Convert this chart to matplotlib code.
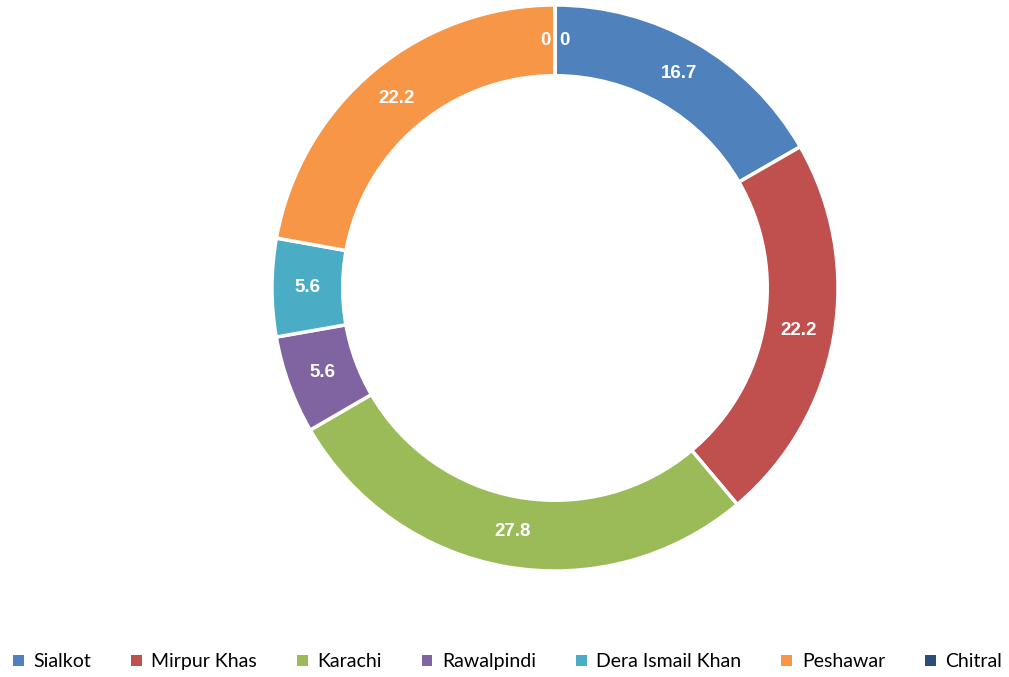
import numpy as np
import matplotlib.pyplot as plt
from matplotlib.patches import Patch

plt.rcParams['font.family'] = ['Lato', 'DejaVu Sans']

cities = ['Sialkot', 'Mirpur Khas', 'Karachi', 'Rawalpindi', 'Dera Ismail Khan', 'Peshawar', 'Chitral', '']
shares = [16.7, 22.2, 27.8, 5.6, 5.6, 22.2, 0, 0]
colors = ['#4F81BD', '#C0504D', '#9BBB59', '#8064A2', '#4BACC6', '#F79646', '#2C4D75', '#7F7F7F']

fig = plt.figure(figsize=(10.09, 6.77), dpi=100)
ax = fig.add_axes([255 / 1009, 89 / 677, 600 / 1009, 600 / 677])

ax.pie(shares, colors=colors, startangle=90, counterclock=False,
       radius=1.0, wedgeprops=dict(width=0.25, edgecolor='white', linewidth=2.5))
ax.set_xlim(-1.06, 1.06)
ax.set_ylim(-1.06, 1.06)
ax.set_aspect('equal')
ax.axis('off')

# data labels in the middle of the ring
total = sum(shares)
cum = 0.0
r_lab = 0.875
zero_shift = [-0.035, 0.035]
zi = 0
for v in shares:
    mid = cum + v / 2
    ang = np.deg2rad(90 - 360 * mid / total)
    x, y = r_lab * np.cos(ang), r_lab * np.sin(ang)
    if v == 0:
        x += zero_shift[zi % 2]
        zi += 1
    txt = f'{v:g}' if v != 0 else '0'
    ax.text(x, y, txt, ha='center', va='center', color='white',
            fontsize=13.5, fontweight='bold', family='Liberation Sans')
    cum += v

handles = [Patch(facecolor=c, edgecolor='none') for c in colors[:7]]
fig.legend(handles, cities[:7], loc='lower center', bbox_to_anchor=(0.503, -0.016),
           ncol=7, frameon=False, fontsize=14, handlelength=0.55, handleheight=0.55,
           handletextpad=0.5, columnspacing=2.05)

fig.savefig('out.png', dpi=100)
